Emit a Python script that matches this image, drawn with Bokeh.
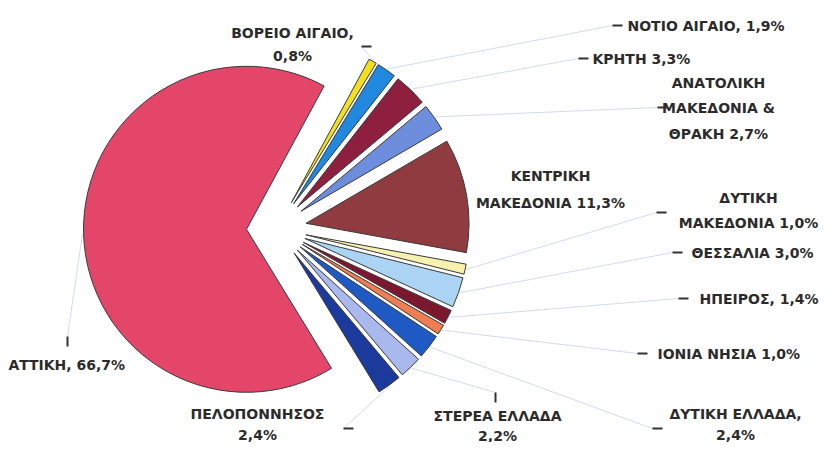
import math
from bokeh.plotting import figure
from bokeh.models import Range1d
from bokeh.core.properties import value
from bokeh.embed import file_html
from bokeh.resources import INLINE

# ---------------- data ----------------
regions = ["ΑΤΤΙΚΗ", "ΠΕΛΟΠΟΝΝΗΣΟΣ", "ΣΤΕΡΕΑ ΕΛΛΑΔΑ", "ΔΥΤΙΚΗ ΕΛΛΑΔΑ",
           "ΙΟΝΙΑ ΝΗΣΙΑ", "ΗΠΕΙΡΟΣ", "ΘΕΣΣΑΛΙΑ", "ΔΥΤΙΚΗ ΜΑΚΕΔΟΝΙΑ",
           "ΚΕΝΤΡΙΚΗ ΜΑΚΕΔΟΝΙΑ", "ΑΝΑΤΟΛΙΚΗ ΜΑΚΕΔΟΝΙΑ & ΘΡΑΚΗ", "ΚΡΗΤΗ",
           "ΝΟΤΙΟ ΑΙΓΑΙΟ", "ΒΟΡΕΙΟ ΑΙΓΑΙΟ"]
shares = [66.7, 2.4, 2.2, 2.4, 1.0, 1.4, 3.0, 1.0, 11.3, 2.7, 3.3, 1.9, 0.8]
colors = ["#E4466A", "#1C3A9C", "#A9B9EE", "#1F5AC4", "#EE7D52", "#7B1830",
          "#AAD3F4", "#F6F1AE", "#8F3B40", "#6C8EDC", "#8E1F3E", "#2188E0",
          "#F3E01C"]
label_templates = ["ΑΤΤΙΚΗ, {p}", "ΠΕΛΟΠΟΝΝΗΣΟΣ\n{p}", "ΣΤΕΡΕΑ ΕΛΛΑΔΑ\n{p}",
                   "ΔΥΤΙΚΗ ΕΛΛΑΔΑ,\n{p}", "ΙΟΝΙΑ ΝΗΣΙΑ  {p}", "ΗΠΕΙΡΟΣ, {p}",
                   "ΘΕΣΣΑΛΙΑ  {p}", "ΔΥΤΙΚΗ\nΜΑΚΕΔΟΝΙΑ {p}",
                   "ΚΕΝΤΡΙΚΗ\nΜΑΚΕΔΟΝΙΑ {p}", "ΑΝΑΤΟΛΙΚΗ\nΜΑΚΕΔΟΝΙΑ &\nΘΡΑΚΗ {p}",
                   "ΚΡΗΤΗ {p}", "ΝΟΤΙΟ ΑΙΓΑΙΟ, {p}", "ΒΟΡΕΙΟ ΑΙΓΑΙΟ,\n{p}"]

# ---------------- layout (picture pixel coords) ----------------
W, H = 820, 442
def X(px): return px
def Y(py): return H - py

CX, CY = 276, 228          # pie centre
R = 163                    # radius
EXPLODE = 30               # explosion distance
ROT = math.radians(1.5)    # pie rotation

# label placement: x, y of first line, line gap, align
label_pos = [(8, 364, 0, "left"), (257, 413, 21, "center"), (497, 415, 20, "center"),
             (735, 413, 21, "center"), (657, 353, 0, "left"), (818, 298, 0, "right"),
             (818, 252, 0, "right"), (748, 197, 25, "center"), (550, 175, 27, "center"),
             (718, 82, 25.5, "center"), (592, 58, 0, "left"), (627, 25, 0, "left"),
             (292, 32, 23, "center")]
# leader end points and tick orientation ('h' / 'v' / None)
leader_end = [(67, 336, "v"), (343, 428, "h"), (495, 392, "v"), (652, 428, "h"),
              (637, 353, "h"), (678, 298, "h"), (672, 252, "h"), (656, 212, "h"),
              None, (657, 107, "h"), (578, 58, "h"), (612, 25, "h"), (361, 46, "h")]

p = figure(width=W, height=H, x_range=Range1d(0, W), y_range=Range1d(0, H),
           output_backend="svg", toolbar_location=None, min_border=0,
           background_fill_color="white", border_fill_color="white")
p.axis.visible = False
p.grid.visible = False
p.outline_line_color = None

total = sum(shares)
span0 = shares[0] / total * 2 * math.pi
start = math.pi - span0 / 2 + ROT
cx, cy = X(CX), Y(CY)
font = value("DejaVu Sans")

for i, v in enumerate(shares):
    span = v / total * 2 * math.pi
    a0, a1 = start, start + span
    mid = (a0 + a1) / 2
    start = a1
    ox = cx + EXPLODE * math.cos(mid)
    oy = cy + EXPLODE * math.sin(mid)
    p.wedge(x=ox, y=oy, radius=R, start_angle=a0, end_angle=a1,
            fill_color=colors[i], line_color="#3a3a3a", line_width=1)

    # leader line
    le = leader_end[i]
    if le is not None:
        sx = cx + (EXPLODE + R + 1) * math.cos(mid)
        sy = cy + (EXPLODE + R + 1) * math.sin(mid)
        ex, ey, kind = X(le[0]), Y(le[1]), le[2]
        p.line([sx, ex], [sy, ey], line_color="#c3cde6", line_width=1, line_alpha=0.75)
        if kind == "h":
            p.line([ex, ex + 10], [ey, ey], line_color="#333333", line_width=2)
        else:
            p.line([ex, ex], [ey, ey - 10], line_color="#333333", line_width=2)

    # label
    pct = f"{v:.1f}".replace(".", ",") + "%"
    lines = label_templates[i].format(p=pct).split("\n")
    lx, ly, gap, align = label_pos[i]
    for k, t in enumerate(lines):
        p.text(x=[X(lx)], y=[Y(ly + k * gap)], text=[t], text_font=font,
               text_font_size="14px", text_font_style="bold", text_color="#2b2b2b",
               text_align=align, text_baseline="middle")

open("out.html", "w").write(file_html(p, INLINE))
